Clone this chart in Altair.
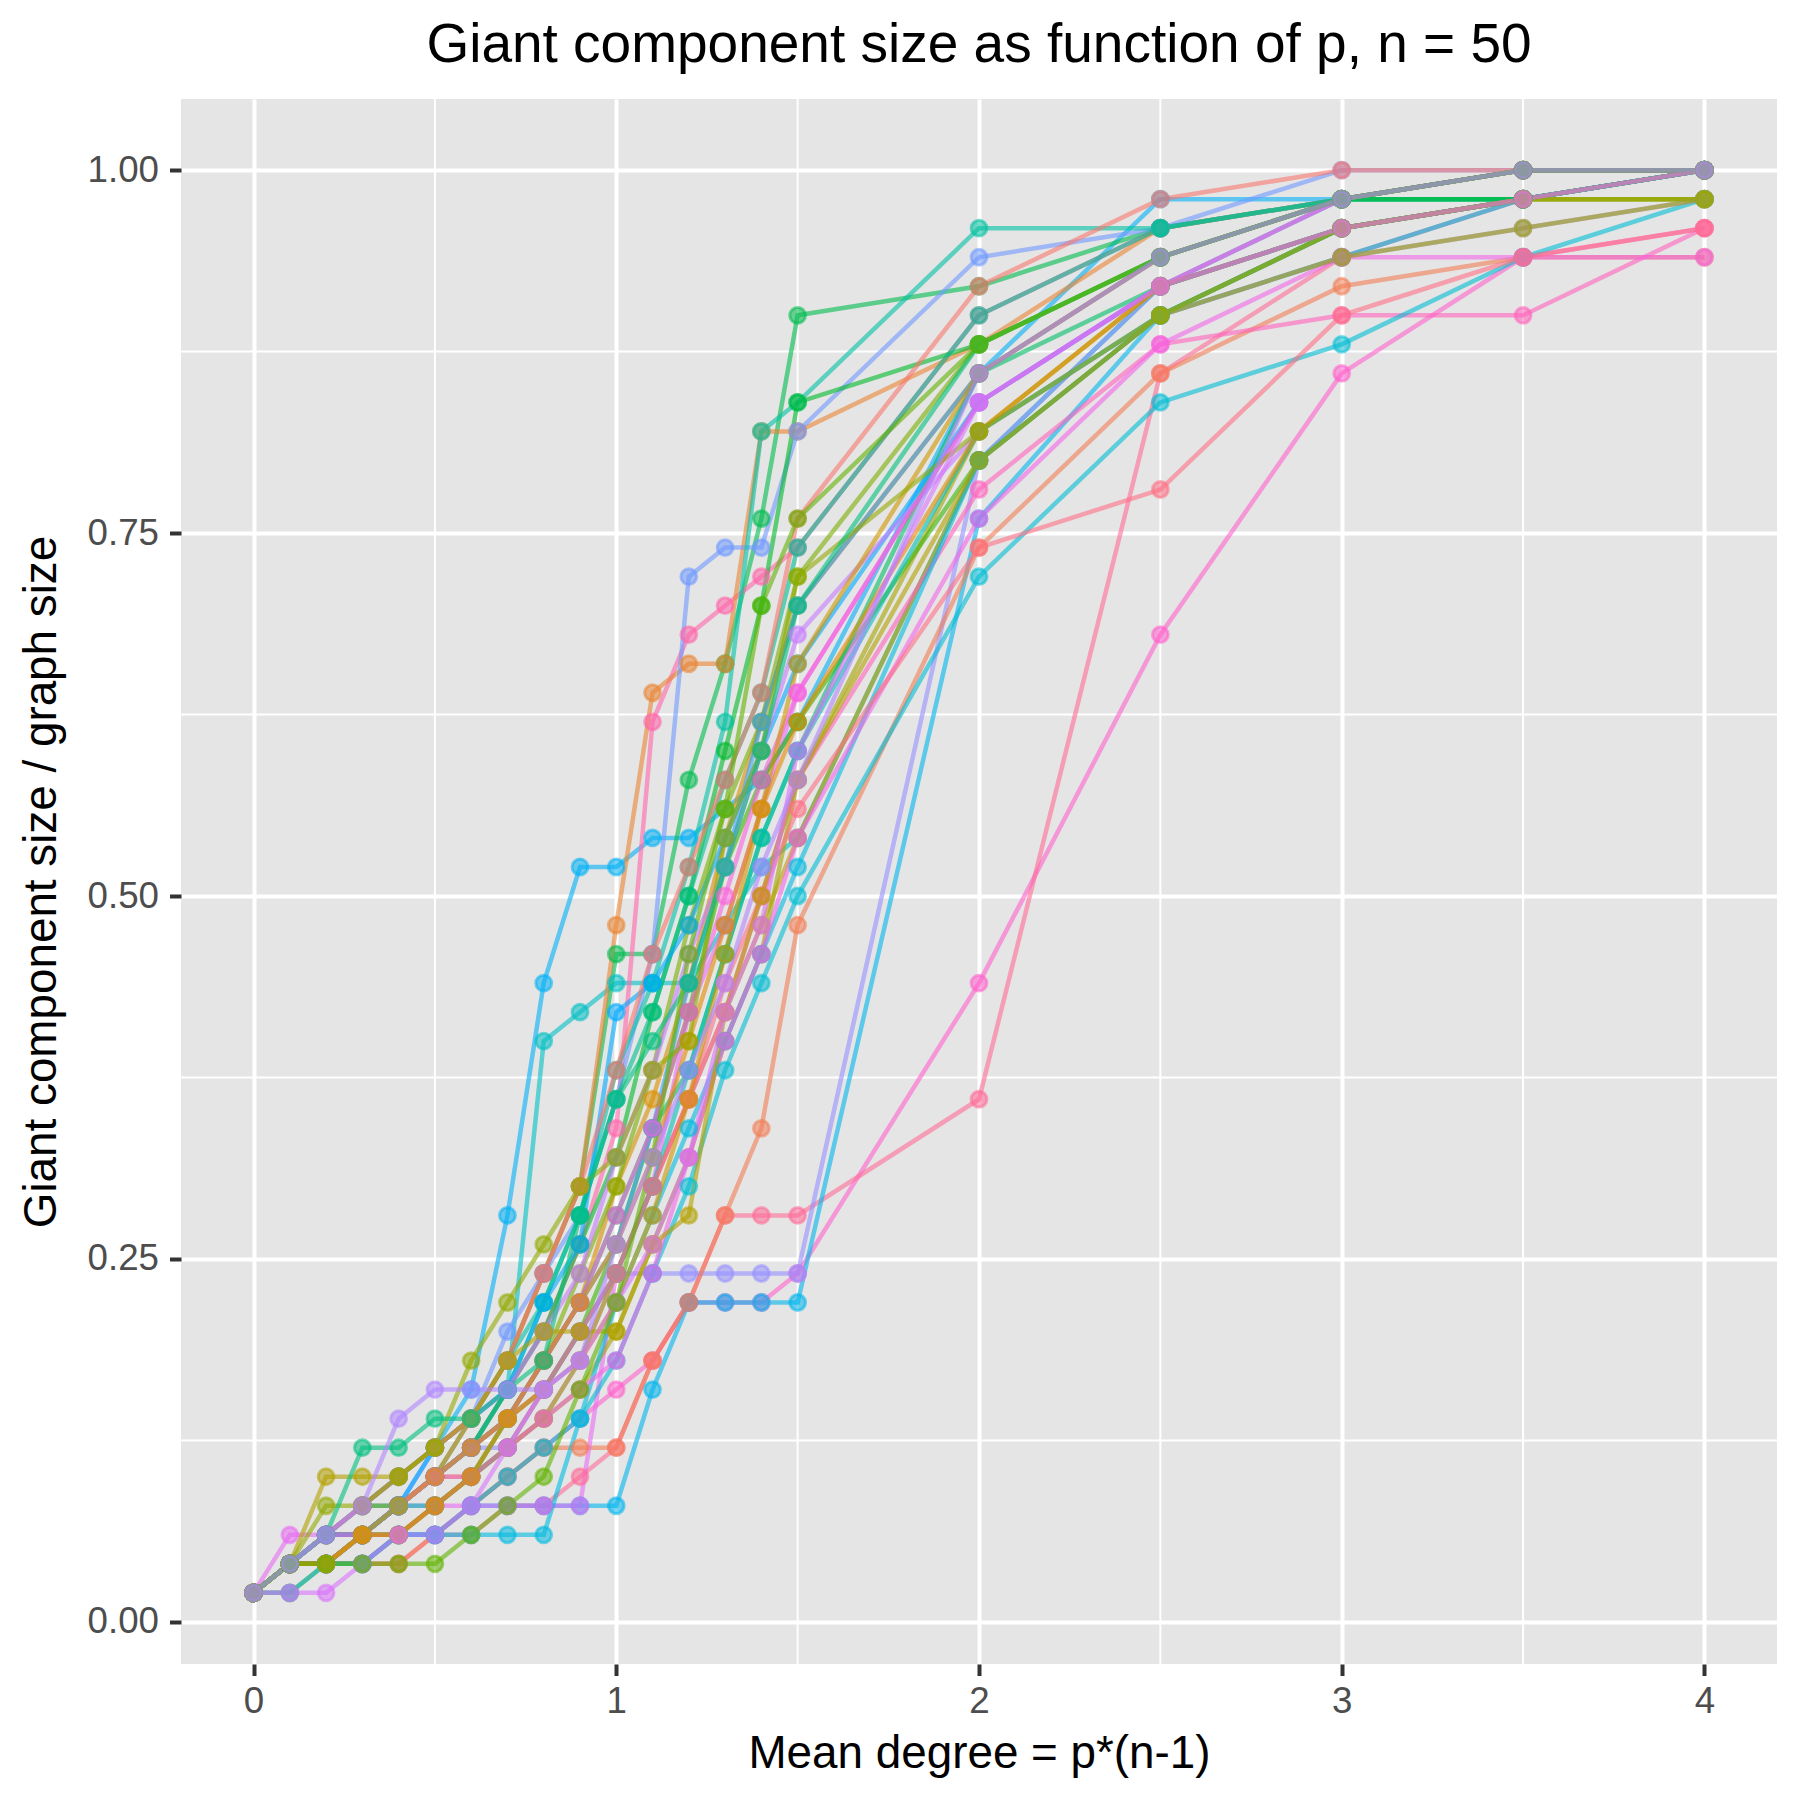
import math
import altair as alt
import pandas as pd

# ---------------- data ----------------
mean_degree = [0, 0.1, 0.2, 0.3, 0.4, 0.5, 0.6, 0.7, 0.8, 0.9, 1.0, 1.1, 1.2, 1.3, 1.4, 1.5,
               2.0, 2.5, 3.0, 3.5, 4.0]
n_nodes = 50

# giant component sizes (number of nodes out of 50), one list per simulation
sim01 = [1, 2, 3, 4, 5, 6, 8, 14, 22, 26, 26, 27, 27, 28, 29, 31, 43, 49, 49, 50, 50]
sim02 = [1, 2, 2, 3, 4, 5, 6, 8, 20, 21, 22, 22, 22, 24, 26, 27, 40, 46, 49, 49, 50]
sim03 = [1, 2, 3, 3, 4, 5, 7, 9, 12, 15, 23, 23, 29, 33, 38, 45, 46, 48, 49, 49, 50]
sim04 = [1, 2, 2, 2, 3, 3, 4, 5, 6, 7, 8, 9, 11, 11, 11, 12, 22, 34, 43, 47, 48]
sim05 = [1, 2, 2, 2, 2, 3, 3, 4, 4, 5, 6, 9, 11, 14, 14, 14, 18, 43, 47, 49, 50]
sim06 = [1, 2, 2, 3, 3, 3, 4, 4, 4, 4, 4, 8, 11, 11, 11, 11, 38, 45, 48, 49, 50]
sim07 = [1, 2, 3, 4, 4, 5, 6, 6, 7, 9, 12, 12, 12, 12, 12, 12, 40, 46, 49, 50, 50]
sim08 = [1, 2, 2, 2, 2, 3, 4, 5, 6, 6, 6, 9, 11, 14, 17, 24, 37, 43, 46, 47, 47]
sim09 = [1, 2, 3, 3, 4, 5, 6, 8, 10, 13, 17, 31, 34, 35, 36, 37, 45, 48, 49, 50, 50]
sim10 = [1, 2, 3, 3, 4, 5, 7, 9, 12, 15, 24, 32, 33, 33, 41, 41, 44, 48, 49, 50, 50]
sim11 = [1, 2, 2, 3, 4, 6, 7, 10, 12, 14, 18, 23, 36, 37, 37, 41, 47, 48, 50, 50, 50]
sim12 = [1, 2, 3, 4, 5, 6, 7, 9, 11, 14, 19, 22, 26, 31, 41, 42, 48, 48, 49, 49, 50]
sim13 = [1, 2, 2, 3, 4, 5, 6, 8, 10, 13, 16, 21, 25, 30, 35, 42, 44, 47, 49, 49, 50]
sim14 = [1, 3, 3, 3, 4, 4, 4, 4, 4, 4, 12, 15, 21, 24, 28, 32, 42, 46, 48, 49, 50]
sim15 = [1, 2, 3, 3, 4, 5, 5, 7, 9, 11, 15, 18, 22, 27, 31, 35, 43, 47, 49, 50, 50]
sim16 = [1, 2, 2, 2, 3, 4, 5, 6, 7, 9, 12, 15, 18, 21, 24, 27, 40, 45, 48, 49, 49]
sim17 = [1, 2, 2, 3, 3, 4, 5, 6, 7, 8, 10, 13, 16, 20, 23, 29, 41, 46, 48, 49, 50]
sim18 = [1, 1, 2, 3, 4, 5, 6, 7, 9, 12, 15, 19, 24, 28, 31, 36, 44, 47, 49, 50, 50]
sim19 = [1, 2, 3, 4, 4, 5, 6, 7, 8, 10, 13, 17, 21, 26, 29, 31, 40, 45, 48, 49, 49]
sim20 = [1, 2, 2, 3, 3, 4, 5, 7, 9, 11, 14, 17, 19, 23, 27, 30, 43, 46, 48, 49, 50]
sim21 = [1, 2, 3, 3, 4, 5, 6, 8, 11, 14, 18, 21, 25, 29, 32, 37, 45, 48, 49, 50, 50]
sim22 = [1, 2, 2, 3, 4, 5, 6, 7, 8, 10, 12, 15, 18, 21, 25, 29, 39, 44, 45, 45, 48]
sim23 = [1, 2, 2, 2, 3, 3, 4, 5, 6, 7, 9, 12, 15, 19, 22, 25, 36, 42, 44, 47, 49]
sim24 = [1, 2, 3, 3, 4, 6, 7, 8, 11, 13, 21, 22, 24, 27, 30, 33, 42, 46, 48, 49, 50]
sim25 = [1, 2, 2, 3, 4, 5, 6, 7, 9, 11, 13, 17, 22, 26, 31, 35, 43, 47, 49, 50, 50]
sim26 = [1, 1, 2, 2, 3, 3, 3, 3, 3, 7, 11, 14, 17, 20, 23, 26, 40, 45, 47, 49, 50]
sim27 = [1, 2, 3, 4, 5, 6, 7, 8, 10, 12, 16, 19, 23, 26, 30, 34, 41, 45, 47, 48, 49]
sim28 = [1, 2, 2, 3, 4, 5, 5, 6, 7, 8, 9, 12, 16, 20, 23, 27, 38, 44, 47, 47, 47]
sim29 = [1, 2, 3, 3, 4, 5, 6, 7, 9, 11, 14, 17, 21, 25, 29, 32, 42, 46, 49, 50, 50]
sim30 = [1, 2, 2, 3, 4, 4, 5, 6, 8, 10, 12, 15, 19, 23, 27, 30, 41, 45, 48, 49, 50]
sim31 = [1, 2, 2, 3, 3, 4, 5, 6, 8, 10, 12, 15, 18, 22, 25, 28, 37, 39, 45, 47, 48]
sim32 = [1, 2, 3, 4, 5, 6, 7, 9, 12, 15, 19, 23, 26, 29, 32, 38, 46, 49, 50, 50, 50]
sim33 = [1, 2, 2, 3, 3, 4, 5, 7, 9, 11, 13, 16, 20, 24, 28, 31, 41, 46, 48, 49, 50]
sim34 = [1, 2, 2, 3, 4, 5, 6, 7, 8, 9, 11, 14, 18, 23, 28, 33, 43, 47, 49, 50, 50]
sim35 = [1, 2, 5, 5, 5, 6, 7, 9, 10, 10, 10, 13, 14, 21, 25, 29, 40, 45, 48, 49, 49]
sim36 = [1, 2, 4, 4, 5, 6, 9, 11, 13, 15, 16, 19, 20, 27, 30, 36, 41, 45, 47, 48, 49]
sim37 = [1, 2, 3, 6, 6, 7, 7, 8, 9, 14, 18, 20, 22, 26, 30, 35, 44, 47, 49, 50, 50]
sim38 = [1, 1, 1, 2, 3, 3, 4, 6, 8, 9, 11, 13, 16, 21, 24, 30, 42, 46, 48, 49, 50]
sim39 = [1, 2, 2, 2, 2, 2, 3, 4, 5, 8, 11, 16, 23, 28, 35, 38, 44, 47, 49, 50, 50]
sim40 = [1, 2, 3, 4, 7, 8, 8, 8, 8, 9, 13, 16, 19, 22, 26, 29, 43, 47, 49, 50, 50]

simulations = [sim01, sim02, sim03, sim04, sim05, sim06, sim07, sim08, sim09, sim10,
               sim11, sim12, sim13, sim14, sim15, sim16, sim17, sim18, sim19, sim20,
               sim21, sim22, sim23, sim24, sim25, sim26, sim27, sim28, sim29, sim30,
               sim31, sim32, sim33, sim34, sim35, sim36, sim37, sim38, sim39, sim40]

# position of each simulation's colour in the ggplot hue wheel (0..39)
hue_slot = [24, 20, 14, 35, 38, 23, 28, 1, 37, 2,
            27, 18, 13, 32, 4, 6, 8, 10, 12, 15,
            17, 36, 21, 25, 26, 22, 30, 33, 34, 19,
            39, 0, 3, 5, 7, 9, 16, 31, 11, 29]

x_ticks = [0, 1, 2, 3, 4]
x_minor = [0.5, 1.5, 2.5, 3.5]
y_ticks = [0.0, 0.25, 0.5, 0.75, 1.0]
y_minor = [0.125, 0.375, 0.625, 0.875]

# ---------------- ggplot-like hue palette ----------------
def hcl_to_hex(h, c=100.0, l=65.0):
    wu, wv = 0.1978398, 0.4683363
    hr = math.radians(h)
    U = c * math.cos(hr)
    V = c * math.sin(hr)
    Y = 100.0 * (((l + 16.0) / 116.0) ** 3 if l > 8 else l / 903.3)
    u = U / (13.0 * l) + wu
    v = V / (13.0 * l) + wv
    X = 9.0 * Y * u / (4.0 * v)
    Z = -X / 3.0 - 5.0 * Y + 3.0 * Y / v
    X, Y, Z = X / 100.0, Y / 100.0, Z / 100.0
    r = 3.240479 * X - 1.537150 * Y - 0.498535 * Z
    g = -0.969256 * X + 1.875992 * Y + 0.041556 * Z
    b = 0.055648 * X - 0.204043 * Y + 1.057311 * Z

    def gam(t):
        t = 1.055 * (t ** (1 / 2.4)) - 0.055 if t > 0.00304 else 12.92 * t
        return min(1.0, max(0.0, t))

    return "#%02X%02X%02X" % tuple(int(round(255 * gam(t))) for t in (r, g, b))


n_sims = len(simulations)
sim_ids = ["s%02d" % (i + 1) for i in range(n_sims)]
palette = [hcl_to_hex(15 + 360.0 * k / n_sims) for k in hue_slot]

rows = []
for sid, counts in zip(sim_ids, simulations):
    for xv, cnt in zip(mean_degree, counts):
        rows.append({"sim": sid, "x": xv, "y": cnt / n_nodes})
df = pd.DataFrame(rows)

df_xminor = pd.DataFrame({"x": x_minor})
df_yminor = pd.DataFrame({"y": y_minor})

# ---------------- encodings ----------------
FONT = "Liberation Sans"
xscale = alt.Scale(domain=[-0.2, 4.2], nice=False, zero=False)
yscale = alt.Scale(domain=[-0.029, 1.049], nice=False, zero=False)

xaxis = alt.Axis(values=x_ticks, format="d", title="Mean degree = p*(n-1)",
                 grid=True, gridColor="white", gridWidth=4,
                 domain=False, tickSize=11.5, tickWidth=4, tickColor="#333333",
                 labelFontSize=36.7, labelColor="#4D4D4D", labelFont=FONT, labelPadding=8,
                 labelFlush=False, labelOverlap=False,
                 titleFontSize=45.8, titleFont=FONT, titleFontWeight="normal", titleColor="black",
                 titleBaseline="alphabetic", titleX=798, titleY=103, titleAlign="center")
yaxis = alt.Axis(values=y_ticks, format=".2f", title="Giant component size / graph size",
                 grid=True, gridColor="white", gridWidth=4,
                 domain=False, tickSize=11.5, tickWidth=4, tickColor="#333333",
                 labelFontSize=36.7, labelColor="#4D4D4D", labelFont=FONT, labelPadding=11,
                 labelFlush=False, labelOverlap=False,
                 titleFontSize=45.8, titleFont=FONT, titleFontWeight="normal", titleColor="black",
                 titleBaseline="alphabetic", titleAngle=270, titleX=-126, titleY=782.5,
                 titleAlign="center")

X = alt.X("x:Q", scale=xscale, axis=xaxis)
Y = alt.Y("y:Q", scale=yscale, axis=yaxis)

color_scale = alt.Scale(domain=sim_ids, range=palette)

minor_x = alt.Chart(df_xminor).mark_rule(color="white", strokeWidth=2).encode(x=X)
minor_y = alt.Chart(df_yminor).mark_rule(color="white", strokeWidth=2).encode(y=Y)

lines = alt.Chart(df).mark_line(strokeWidth=4.5, opacity=0.6).encode(
    x=X, y=Y,
    color=alt.Color("sim:N", scale=color_scale, legend=None),
    order=alt.Order("x:Q"),
)

points = alt.Chart(df).mark_circle(size=250, fillOpacity=0.55, strokeOpacity=0.55,
                                   strokeWidth=3).encode(
    x=X, y=Y,
    color=alt.Color("sim:N", scale=color_scale, legend=None),
    stroke=alt.Stroke("sim:N", scale=color_scale, legend=None),
)

chart = alt.layer(minor_x, minor_y, lines, points).properties(
    width=1596,
    height=1565,
    background="white",
    title=alt.TitleParams("Giant component size as function of p, n = 50",
                          fontSize=55, font=FONT, fontWeight="normal", color="black",
                          anchor="middle", frame="group", baseline="alphabetic", offset=-19),
    autosize=alt.AutoSizeParams(type="none"),
    padding={"left": 173, "top": 91, "right": 15, "bottom": 120},
).configure_view(
    fill="#E5E5E5", stroke=None
)

chart.save("out.html", embed_options={"renderer": "svg", "actions": False})
